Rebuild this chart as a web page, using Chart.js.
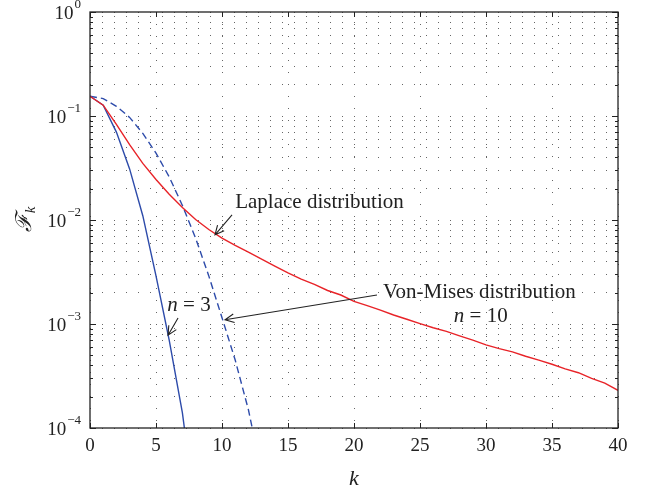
<!DOCTYPE html>
<html>
<head>
<meta charset="utf-8">
<script src="https://cdn.jsdelivr.net/npm/chart.js@4.4.0/dist/chart.umd.min.js"></script>
<style>
  html, body { margin: 0; padding: 0; background: #fff; }
  #wrap { width: 653px; height: 491px; }
</style>
</head>
<body>
<div id="wrap"><canvas id="chartFk"></canvas></div>
<script>
// values
const kLaplace = [0, 1, 2, 3, 4, 5, 6, 7, 8, 9, 10, 11, 12, 13, 14, 15, 16, 17, 18, 19, 20,
    21, 22, 23, 24, 25, 26, 27, 28, 29, 30, 31, 32, 33, 34, 35, 36, 37, 38, 39, 40];
const laplace = [0.155, 0.127, 0.083, 0.053, 0.035, 0.0245, 0.0177, 0.0132, 0.0101, 0.0081, 0.0067,
    0.0057, 0.0049, 0.0042, 0.0036, 0.0031, 0.0027, 0.0024, 0.0021, 0.0019, 0.00165,
    0.0015, 0.00136, 0.00122, 0.00111, 0.00101, 0.00092, 0.00085, 0.00077, 0.0007, 0.00063,
    0.00058, 0.00054, 0.00049, 0.00045, 0.00041, 0.00037, 0.00034, 0.0003, 0.00027, 0.00023];
const kVonMises3 = [0, 1, 2, 3, 4, 5, 6, 7, 8];
const vonMises3 = [0.155, 0.127, 0.070, 0.031, 0.011, 0.0029, 0.0007, 0.00014, 0.000015];
const kVonMises10 = [0, 1, 2, 3, 4, 5, 6, 7, 8, 9, 10, 11, 12, 13];
const vonMises10 = [0.155, 0.147, 0.124, 0.097, 0.068, 0.044, 0.026, 0.0138, 0.0067, 0.0029,
    0.00115, 0.00045, 0.00015, 0.000037];
const xTickValues = [0, 5, 10, 15, 20, 25, 30, 35, 40];
const yDecades = [-4, -3, -2, -1, 0];

// text notes, placed in data units: [k, value]
const notes = [
    { text: 'Laplace distribution', at: [11.0, 0.0146], from: [10.76, 0.0112], to: [9.47, 0.0072] },
    { text: 'Von-Mises distribution', at: [22.2, 0.0020], from: [21.74, 0.0019], to: [10.23, 0.0011] },
    { italic: 'n', text: ' = 10', at: [29.6, 0.00117], center: true },
    { italic: 'n', text: ' = 3', at: [7.5, 0.00152], center: true, from: [6.67, 0.00114], to: [5.91, 0.00078] }
];

const serif = "'Liberation Serif', 'DejaVu Serif', serif";
const ink = '#222';
const noteSize = 21;

function toPoints(xs, ys) {
    return xs.map((x, i) => ({ x: x, y: ys[i] }));
}

function buildLogTicks(scale) {
    let ticks = [];
    yDecades.forEach(e => {
        const m = e === 0 ? 1 : 9;
        for (let s = 1; s <= m; s++) {
            ticks.push({ value: s * Math.pow(10, e) });
        }
    });
    scale.ticks = ticks;
}

function arrow(ctx, x1, y1, x2, y2) {
    const ang = Math.atan2(y2 - y1, x2 - x1);
    const head = 10;
    ctx.beginPath();
    ctx.moveTo(x1, y1);
    ctx.lineTo(x2, y2);
    ctx.moveTo(x2 - head * Math.cos(ang - 0.45), y2 - head * Math.sin(ang - 0.45));
    ctx.lineTo(x2, y2);
    ctx.lineTo(x2 - head * Math.cos(ang + 0.45), y2 - head * Math.sin(ang + 0.45));
    ctx.stroke();
}

const framePlugin = {
    id: 'framePlugin',
    afterDraw(chart) {
        const { ctx, chartArea: a, scales: { x, y } } = chart;
        ctx.save();
        ctx.strokeStyle = ink;
        ctx.lineWidth = 1;

        // inward tick marks
        ctx.beginPath();
        x.ticks.forEach(t => {
            const px = Math.round(x.getPixelForValue(t.value)) + 0.5;
            ctx.moveTo(px, a.bottom); ctx.lineTo(px, a.bottom - 5);
            ctx.moveTo(px, a.top); ctx.lineTo(px, a.top + 5);
        });
        y.ticks.forEach(t => {
            const py = Math.round(y.getPixelForValue(t.value)) + 0.5;
            const lg = Math.log10(t.value);
            const len = Math.abs(lg - Math.round(lg)) < 1e-6 ? 6 : 3;
            ctx.moveTo(a.left, py); ctx.lineTo(a.left + len, py);
            ctx.moveTo(a.right, py); ctx.lineTo(a.right - len, py);
        });
        ctx.stroke();

        // box
        ctx.lineWidth = 1.3;
        ctx.strokeRect(a.left, a.top, a.width, a.height);

        // y labels 10^e
        ctx.fillStyle = ink;
        ctx.textBaseline = 'middle';
        yDecades.forEach(e => {
            const py = y.getPixelForValue(Math.pow(10, e));
            const expText = e === 0 ? '0' : '\u2212' + Math.abs(e);
            ctx.font = '13px ' + serif;
            const ew = ctx.measureText(expText).width;
            const right = a.left - 9;
            ctx.textAlign = 'left';
            ctx.fillText(expText, right - ew, py - 7);
            ctx.font = '19px ' + serif;
            ctx.textAlign = 'right';
            ctx.fillText('10', right - ew - 1, py + 2);
        });

        // y title: script F with subscript k
        ctx.save();
        ctx.translate(25, (a.top + a.bottom) / 2);
        ctx.rotate(-Math.PI / 2);
        ctx.textAlign = 'left';
        ctx.font = 'italic 22px ' + serif;
        const fw = ctx.measureText('\u2131').width;
        ctx.font = 'italic 15px ' + serif;
        const kw = ctx.measureText('k').width;
        const start = -(fw + kw) / 2;
        ctx.font = 'italic 22px ' + serif;
        ctx.fillText('\u2131', start, 0);
        ctx.font = 'italic 15px ' + serif;
        ctx.fillText('k', start + fw + 1, 6);
        ctx.restore();

        // notes and arrows
        notes.forEach(n => {
            const px = x.getPixelForValue(n.at[0]);
            const py = y.getPixelForValue(n.at[1]);
            ctx.font = 'italic ' + noteSize + 'px ' + serif;
            const iw = n.italic ? ctx.measureText(n.italic).width : 0;
            ctx.font = noteSize + 'px ' + serif;
            const tw = ctx.measureText(n.text).width;
            let left = n.center ? px - (iw + tw) / 2 : px;
            ctx.textAlign = 'left';
            if (n.italic) {
                ctx.font = 'italic ' + noteSize + 'px ' + serif;
                ctx.fillText(n.italic, left, py);
            }
            ctx.font = noteSize + 'px ' + serif;
            ctx.fillText(n.text, left + iw, py);
            if (n.from) {
                ctx.lineWidth = 1.1;
                arrow(ctx, x.getPixelForValue(n.from[0]), y.getPixelForValue(n.from[1]),
                    x.getPixelForValue(n.to[0]), y.getPixelForValue(n.to[1]));
            }
        });
        ctx.restore();
    }
};

function initChart() {
    const canvas = document.getElementById('chartFk');
    new Chart(canvas, {
        type: 'line',
        data: {
            datasets: [
                {
                    label: 'Laplace distribution',
                    data: toPoints(kLaplace, laplace),
                    borderColor: 'rgb(232,35,40)',
                    borderWidth: 1.4,
                    pointRadius: 0,
                    tension: 0
                },
                {
                    label: 'Von-Mises n = 3',
                    data: toPoints(kVonMises3, vonMises3),
                    borderColor: 'rgb(45,75,170)',
                    borderWidth: 1.4,
                    pointRadius: 0,
                    tension: 0
                },
                {
                    label: 'Von-Mises n = 10',
                    data: toPoints(kVonMises10, vonMises10),
                    borderColor: 'rgb(45,75,170)',
                    borderWidth: 1.4,
                    borderDash: [7, 4],
                    pointRadius: 0,
                    tension: 0
                }
            ]
        },
        options: {
            responsive: true,
            maintainAspectRatio: false,
            animation: false,
            layout: { padding: { left: 0, right: 35, top: 12, bottom: 0 } },
            plugins: {
                legend: { display: false },
                tooltip: { enabled: false }
            },
            scales: {
                x: {
                    type: 'linear',
                    min: 0,
                    max: 40,
                    afterBuildTicks: scale => { scale.ticks = xTickValues.map(v => ({ value: v })); },
                    afterFit: scale => { scale.height = 63; },
                    ticks: {
                        color: ink,
                        font: { family: serif, size: 19 },
                        padding: 7,
                        maxRotation: 0
                    },
                    grid: { color: '#666', lineWidth: 1, drawTicks: false },
                    border: { display: false, dash: [1, 11] },
                    title: {
                        display: true,
                        text: 'k',
                        color: ink,
                        font: { family: serif, size: 22, style: 'italic' },
                        padding: { top: 0, bottom: -1 }
                    }
                },
                y: {
                    type: 'logarithmic',
                    min: 1e-4,
                    max: 1,
                    afterBuildTicks: buildLogTicks,
                    afterFit: scale => { scale.width = 90; },
                    ticks: { display: false },
                    grid: { color: '#666', lineWidth: 1, drawTicks: false },
                    border: { display: false, dash: [1, 11] }
                }
            }
        },
        plugins: [framePlugin]
    });
}

window.addEventListener('load', initChart);
</script>
</body>
</html>
